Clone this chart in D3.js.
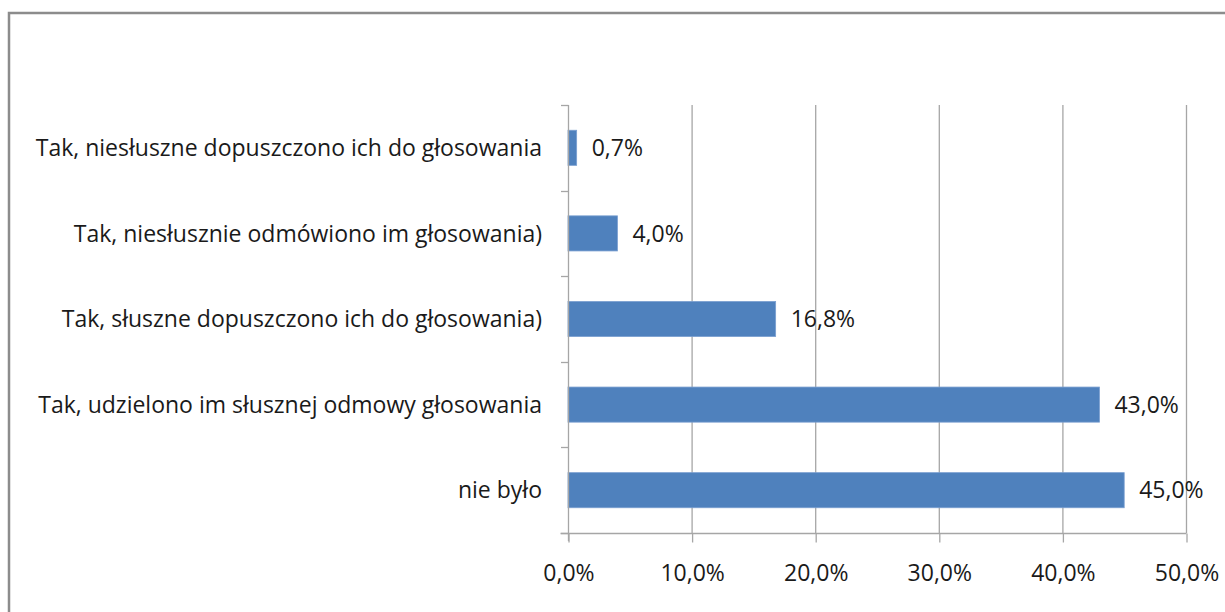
<!DOCTYPE html>
<html>
<head>
<meta charset="utf-8">
<script src="https://cdn.jsdelivr.net/npm/d3@7"></script>
<style>
body{margin:0;background:#fff;}
text{font-family:"Open Sans","Liberation Sans",sans-serif;fill:#1a1a1a;}
</style>
</head>
<body>
<svg></svg>
<script>
var width=1225;
var height=612;

var categories=["Tak, niesłuszne dopuszczono ich do głosowania","Tak, niesłusznie odmówiono im głosowania)","Tak, słuszne dopuszczono ich do głosowania)","Tak, udzielono im słusznej odmowy głosowania","nie było"];
var values=[0.7,4.0,16.8,43.0,45.0];
var ticks=[0,10,20,30,40,50];

var fmt=function(v){return v.toFixed(1).replace(".",",")+"%";};

var svg=d3.select("svg")
	.attr("width",width)
	.attr("height",height);

// chart border
svg.append("rect")
	.attr("x",9)
	.attr("y",13)
	.attr("width",1240)
	.attr("height",640)
	.attr("fill","none")
	.attr("stroke","#8c8c8c")
	.attr("stroke-width",2.5);

var scalex=d3.scaleLinear()
	.domain([0,50])
	.range([568,1186]);

var scaley=d3.scaleBand()
	.domain(categories)
	.range([105,533])
	.paddingInner(0.59)
	.paddingOuter(0.295);

// gridlines
svg.append("g")
	.selectAll("line")
	.data(ticks.slice(1))
	.enter()
	.append("line")
	.attr("x1",d=>scalex(d)+0.5)
	.attr("x2",d=>scalex(d)+0.5)
	.attr("y1",105)
	.attr("y2",533)
	.attr("stroke","#a6a6a6")
	.attr("stroke-width",1.3);

svg.selectAll(".bar")
	.data(values)
	.enter()
	.append("rect")
	.classed("bar",true)
	.attr("x",scalex(0))
	.attr("y",(d,i)=>scaley(categories[i]))
	.attr("width",d=>scalex(d)-scalex(0))
	.attr("height",scaley.bandwidth())
	.attr("fill","#4f81bd")
	.attr("stroke","#7a9fd0")
	.attr("stroke-width",0.8);

svg.selectAll(".val")
	.data(values)
	.enter()
	.append("text")
	.classed("val",true)
	.attr("x",d=>scalex(d)+15)
	.attr("y",(d,i)=>scaley(categories[i])+scaley.bandwidth()/2)
	.attr("dy","0.36em")
	.style("font-size","23px")
	.text(fmt);

var xaxis=d3.axisBottom(scalex)
	.tickValues(ticks)
	.tickSize(9)
	.tickPadding(22)
	.tickFormat(fmt);

var gx=svg.append("g")
	.attr("transform","translate(0.5,533.5)")
	.call(xaxis);
gx.select(".domain").attr("d","M560,0H"+scalex(50));
gx.selectAll("line,path").attr("stroke","#a6a6a6").attr("stroke-width",1.3);
gx.selectAll("text").style("font-size","23px").attr("fill","#1a1a1a");

// y axis with ticks at band boundaries
var yedges=categories.map(c=>scaley(c)-scaley.step()*scaley.paddingInner()/2);
yedges.push(533);
var gy=svg.append("g");
gy.append("line")
	.attr("x1",568.5).attr("x2",568.5)
	.attr("y1",105).attr("y2",541)
	.attr("stroke","#a6a6a6").attr("stroke-width",1.3);
gy.selectAll(".yt")
	.data(yedges)
	.enter()
	.append("line")
	.attr("x1",561).attr("x2",568.5)
	.attr("y1",d=>Math.round(d)+0.5).attr("y2",d=>Math.round(d)+0.5)
	.attr("stroke","#a6a6a6").attr("stroke-width",1.3);
gy.selectAll(".cat")
	.data(categories)
	.enter()
	.append("text")
	.attr("x",542)
	.attr("y",d=>scaley(d)+scaley.bandwidth()/2)
	.attr("dy","0.36em")
	.attr("text-anchor","end")
	.style("font-size","23px")
	.text(d=>d);
</script>
</body>
</html>
